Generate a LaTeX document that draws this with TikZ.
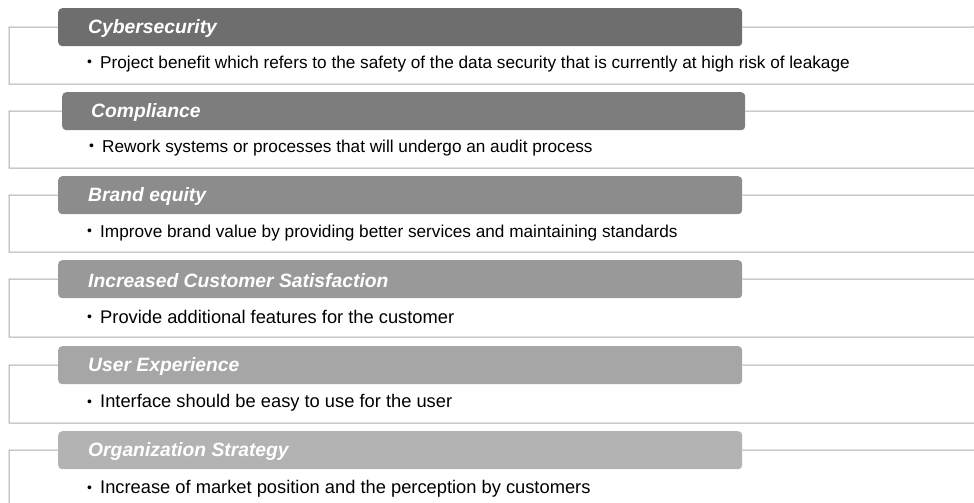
\documentclass[tikz,border=0pt]{standalone}
\usepackage{fontspec}
\setmainfont{Liberation Sans}
\definecolor{barA}{HTML}{6E6E6E}
\definecolor{barB}{HTML}{7D7D7D}
\definecolor{barC}{HTML}{8C8C8C}
\definecolor{barD}{HTML}{999999}
\definecolor{barE}{HTML}{A6A6A6}
\definecolor{barF}{HTML}{B3B3B3}
\definecolor{rule}{HTML}{ABABAB}
\tikzset{
  headbar/.style={rounded corners=4pt, minimum width=684pt, minimum height=38pt,
    inner sep=0pt, anchor=north west, draw=none},
  headtext/.style={anchor=west, inner sep=0pt, text=white, yshift=-1.5pt,
    font=\fontsize{19.3}{21}\selectfont\bfseries\itshape},
  bodysmall/.style={anchor=west, inner sep=0pt, text=black,
    font=\fontsize{17.2}{19}\selectfont},
  bodylarge/.style={anchor=west, inner sep=0pt, text=black,
    font=\fontsize{18.3}{20}\selectfont},
  frame/.style={draw=rule, line width=1pt},
}
% small bullet followed by the item text
\newcommand{\bulletitem}[1]{\makebox[13pt][l]{\raisebox{1.6pt}{\fontsize{14}{15}\selectfont\textbullet}}#1}
\begin{document}
\begin{tikzpicture}[x=1pt,y=-1pt]
\useasboundingbox (0,0) rectangle (974,503);

% ---- Cybersecurity
\node[headbar, fill=barA] (b1) at (58,8) {};
\node[headtext] (t1) at ([xshift=30pt]b1.west) {Cybersecurity};
\node[bodysmall] (d1) at (87,64) {\bulletitem{Project benefit which refers to the safety of the data security that is currently at high risk of leakage}};
\coordinate (l1) at (9,27); \coordinate (r1) at (974,27);
\coordinate (lb1) at (9,84); \coordinate (rb1) at (974,84);
\draw[frame] (b1.west) -- (l1) -- (lb1) -- (rb1);
\draw[frame] (b1.east) -- (r1);

% ---- Compliance
\node[headbar, fill=barB, minimum width=683pt] (b2) at (62,92) {};
\node[headtext] (t2) at ([xshift=29pt]b2.west) {Compliance};
\node[bodysmall] (d2) at (89,148) {\bulletitem{Rework systems or processes that will undergo an audit process}};
\coordinate (l2) at (9,111); \coordinate (r2) at (974,111);
\coordinate (lb2) at (9,168); \coordinate (rb2) at (974,168);
\draw[frame] (b2.west) -- (l2) -- (lb2) -- (rb2);
\draw[frame] (b2.east) -- (r2);

% ---- Brand equity
\node[headbar, fill=barC] (b3) at (58,176) {};
\node[headtext] (t3) at ([xshift=30pt]b3.west) {Brand equity};
\node[bodysmall] (d3) at (87,233) {\bulletitem{Improve brand value by providing better services and maintaining standards}};
\coordinate (l3) at (9,195); \coordinate (r3) at (974,195);
\coordinate (lb3) at (9,252); \coordinate (rb3) at (974,252);
\draw[frame] (b3.west) -- (l3) -- (lb3) -- (rb3);
\draw[frame] (b3.east) -- (r3);

% ---- Increased Customer Satisfaction
\node[headbar, fill=barD] (b4) at (58,260) {};
\node[headtext] (t4) at ([xshift=30pt]b4.west) {Increased Customer Satisfaction};
\node[bodylarge] (d4) at (87,317) {\bulletitem{Provide additional features for the customer}};
\coordinate (l4) at (9,279); \coordinate (r4) at (974,279);
\coordinate (lb4) at (9,337); \coordinate (rb4) at (974,337);
\draw[frame] (b4.west) -- (l4) -- (lb4) -- (rb4);
\draw[frame] (b4.east) -- (r4);

% ---- User Experience
\node[headbar, fill=barE] (b5) at (58,346) {};
\node[headtext] (t5) at ([xshift=30pt]b5.west) {User Experience};
\node[bodylarge] (d5) at (87,403) {\bulletitem{Interface should be easy to use for the user}};
\coordinate (l5) at (9,365); \coordinate (r5) at (974,365);
\coordinate (lb5) at (9,423); \coordinate (rb5) at (974,423);
\draw[frame] (b5.west) -- (l5) -- (lb5) -- (rb5);
\draw[frame] (b5.east) -- (r5);

% ---- Organization Strategy
\node[headbar, fill=barF] (b6) at (58,431) {};
\node[headtext] (t6) at ([xshift=30pt]b6.west) {Organization Strategy};
\node[bodylarge] (d6) at (87,489) {\bulletitem{Increase of market position and the perception by customers}};
\coordinate (l6) at (9,450); \coordinate (r6) at (974,450);
\coordinate (lb6) at (9,503);
\draw[frame] (b6.west) -- (l6) -- (lb6);
\draw[frame] (b6.east) -- (r6);
\end{tikzpicture}
\end{document}
